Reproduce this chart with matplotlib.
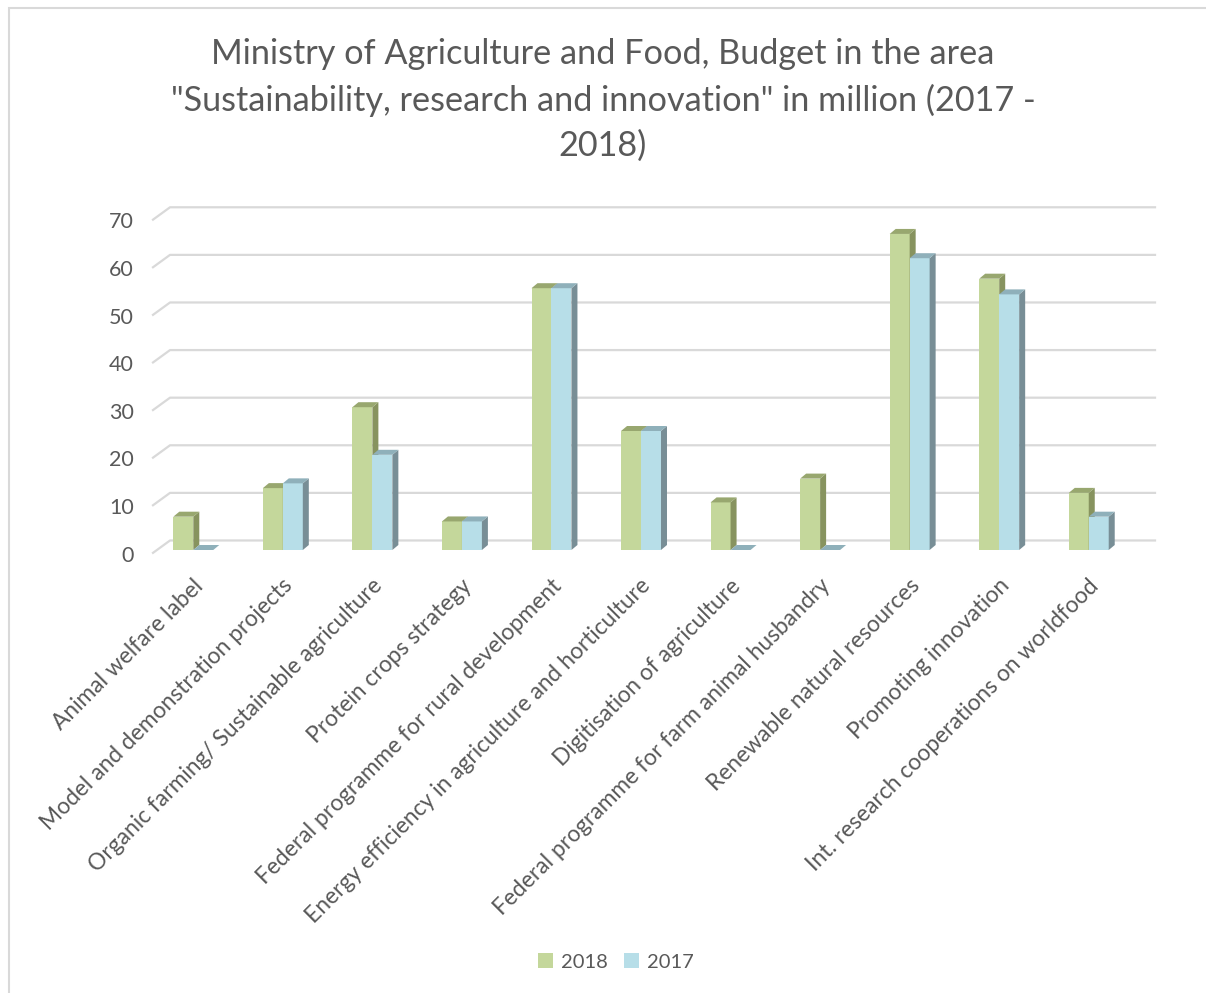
import numpy as np
import matplotlib
matplotlib.use("Agg")
import matplotlib.pyplot as plt
from matplotlib.patches import Polygon, Patch, Rectangle
from matplotlib.transforms import ScaledTranslation

plt.rcParams['font.family'] = ['Lato', 'DejaVu Sans']

categories = [
    "Animal welfare label",
    "Model and demonstration projects",
    "Organic farming/ Sustainable agriculture",
    "Protein crops strategy",
    "Federal programme for rural development",
    "Energy efficiency in agriculture and horticulture",
    "Digitisation of agriculture",
    "Federal programme for farm animal husbandry",
    "Renewable natural resources",
    "Promoting innovation",
    "Int. research cooperations on worldfood",
]
values_2018 = [7, 13, 30, 6, 55, 25, 10, 15, 66.4, 57, 12]
values_2017 = [0, 14, 20, 6, 55, 25, 0, 0, 61.3, 53.7, 7]
series_names = ["2018", "2017"]
yticks = [0, 10, 20, 30, 40, 50, 60, 70]

title = ('Ministry of Agriculture and Food, Budget in the area\n'
         '"Sustainability, research and innovation" in million (2017 -\n2018)')

text_color = "#595959"
grid_color = "#d9d9d9"
# front, side, top colours per series
colors = {
    "2018": ("#c4d79b", "#87935f", "#98a76f"),
    "2017": ("#b7dee8", "#788e96", "#8fb0ba"),
}

W, H = 1206, 993
fig = plt.figure(figsize=(W / 100, H / 100), dpi=100)

# chart-area border (runs off the right and bottom)
fig.patches.append(Rectangle((9 / W, -0.1), 1.2, 1 - 8 / H + 0.1, transform=fig.transFigure,
                             fill=False, edgecolor=grid_color, linewidth=1.5))

ax = fig.add_axes([153 / W, 1 - 550 / H, 985 / W, 73 * 4.76 / H])
ax.set_xlim(-0.45, len(categories) - 0.45)
ax.set_ylim(0, 73)
for s in ax.spines.values():
    s.set_visible(False)
ax.set_xticks([])
ax.set_yticks(yticks)
ax.set_yticklabels([str(v) for v in yticks], fontsize=15.5, color=text_color)
ax.tick_params(axis='y', length=0, pad=14)
down = ScaledTranslation(0, -3.5 / 100, fig.dpi_scale_trans)
for lab in ax.get_yticklabels():
    lab.set_transform(lab.get_transform() + down)

# back wall gridlines with depth offset
wall_dx, wall_dy = 0.19, 2.0
x_left, x_right = -0.45, len(categories) - 0.45
for v in yticks:
    ax.plot([x_left, x_left + wall_dx, x_right + wall_dx],
            [v - 0.6, v + wall_dy, v + wall_dy],
            color=grid_color, linewidth=1.6, zorder=0, clip_on=False)

# pseudo-3D clustered columns
bar_w = 0.223
dx, dy = 0.067, 1.05
x = np.arange(len(categories))
for k, (name, vals) in enumerate(zip(series_names, [values_2018, values_2017])):
    front, side, top = colors[name]
    xs = x - bar_w + k * bar_w
    ax.bar(xs, vals, width=bar_w, align='edge', color=front, zorder=2 + k * 3)
    for xl, h in zip(xs, vals):
        xr = xl + bar_w
        ax.add_patch(Polygon([(xr, 0), (xr + dx, dy), (xr + dx, h + dy), (xr, h)],
                             closed=True, facecolor=side, edgecolor='none', zorder=3 + k * 3))
        ax.add_patch(Polygon([(xl, h), (xl + dx, h + dy), (xr + dx, h + dy), (xr, h)],
                             closed=True, facecolor=top, edgecolor='none', zorder=3 + k * 3))

# rotated category labels
off = ScaledTranslation(-1 / 100, -25 / 100, fig.dpi_scale_trans)
for i, lab in enumerate(categories):
    ax.text(i, 0, lab, transform=ax.get_xaxis_transform() + off, rotation=45,
            rotation_mode='anchor', ha='right', va='top', fontsize=16.4, color=text_color)

fig.text(0.5, 1 - 38 / H, title, ha='center', va='top', fontsize=24.7, color=text_color,
         linespacing=1.5)

handles = [Patch(facecolor=colors[n][0], edgecolor='none') for n in series_names]
fig.legend(handles, series_names, loc='center', bbox_to_anchor=(616 / W, 1 - 962 / H),
           ncol=2, frameon=False, fontsize=14.5, labelcolor=text_color,
           handlelength=0.75, handleheight=0.75, handletextpad=0.4, columnspacing=0.8)

fig.savefig("out.png", dpi=100)
